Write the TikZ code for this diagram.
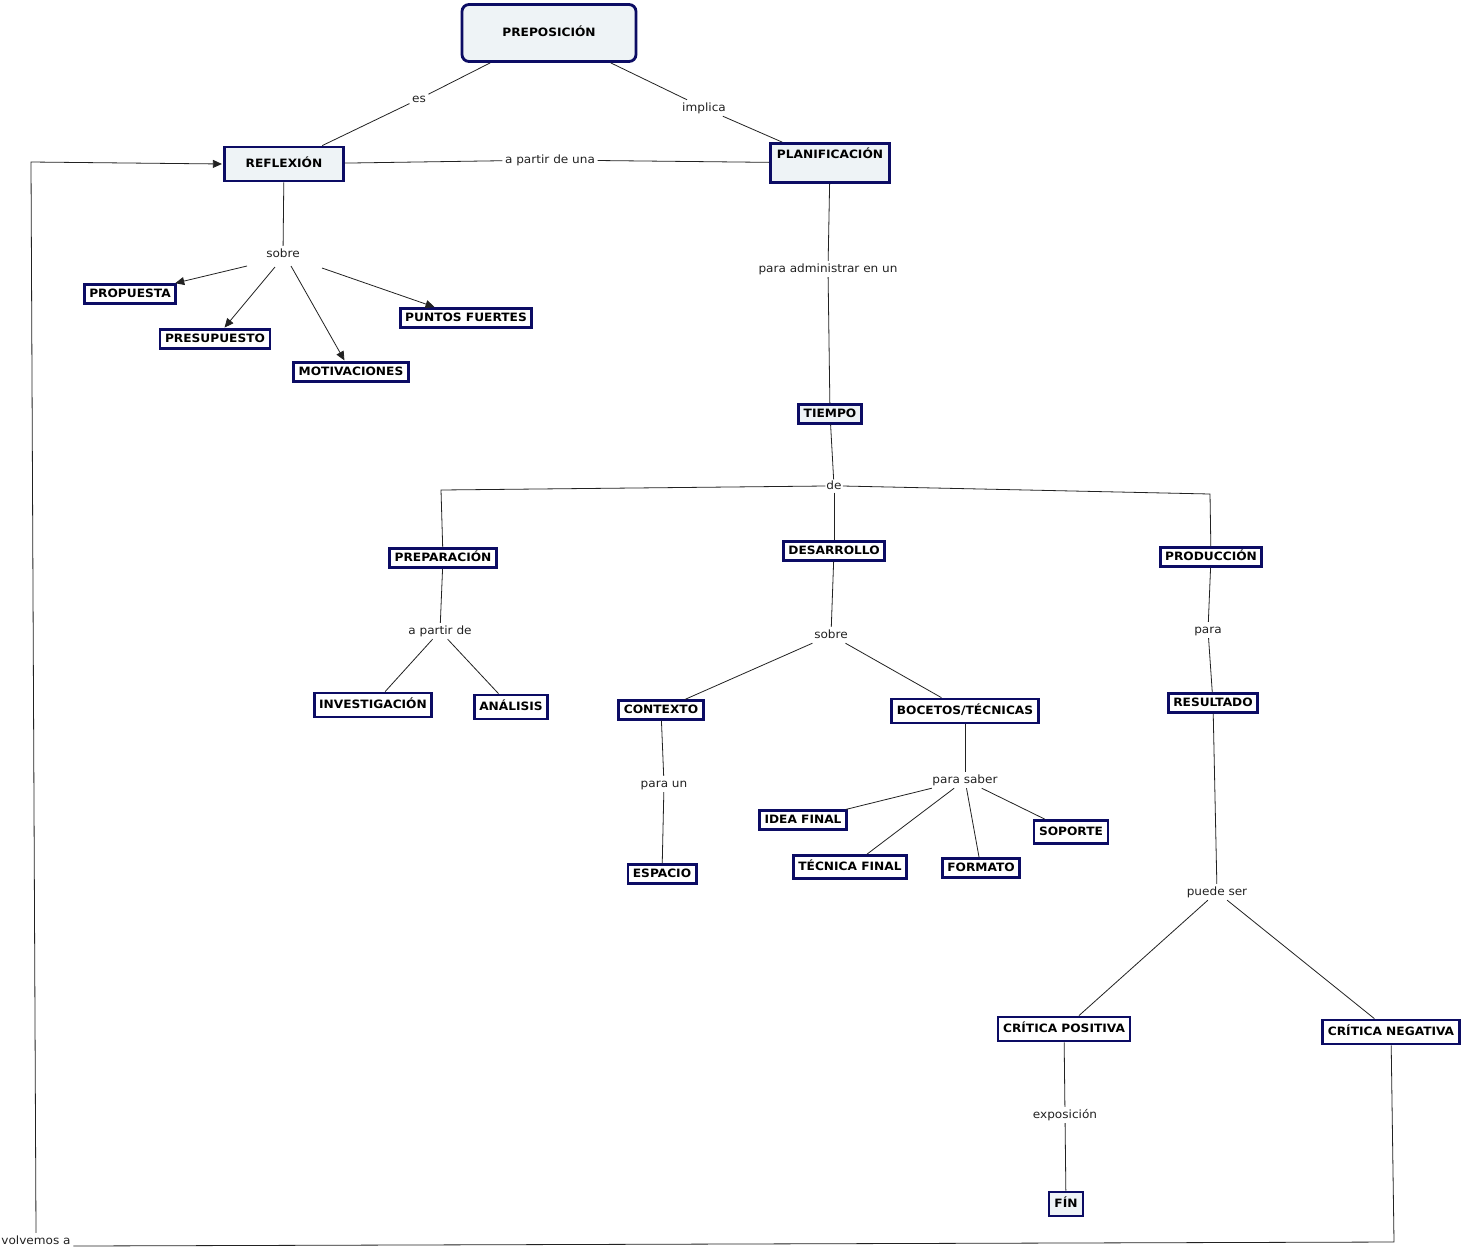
\documentclass[tikz,border=0pt]{standalone}
\usepackage{fontspec}
\setmainfont{DejaVu Sans}[FakeStretch=1.06]
\usetikzlibrary{arrows.meta}
\definecolor{navy}{RGB}{12,12,100}
\definecolor{lightfill}{HTML}{EEF3F6}
\definecolor{ink}{HTML}{222222}
\begin{document}
\begin{tikzpicture}[x=1pt,y=-1pt,
  every node/.style={font=\fontsize{11.4}{13}\selectfont},
  box/.style={draw=navy, line width=2.8pt, fill=white, font=\fontsize{11.5}{13}\selectfont\bfseries,
    inner xsep=5pt, inner ysep=4pt, text height=8.5pt, text depth=1.8pt},
  boxl/.style={box, fill=lightfill},
  lbl/.style={inner sep=2.5pt, text height=8.5pt, text depth=2.5pt, text=ink},
  con/.style={line width=0.8pt, draw=ink},
  arr/.style={con, -{Triangle[length=9pt,width=8pt]}, shorten >=1.2pt}
]
\fill[white] (0,-2) rectangle (1466,1246);
\useasboundingbox (0,-2) rectangle (1466,1246);

% concepts
\node[boxl, rounded corners=7pt, minimum width=174pt, minimum height=57pt] (prep) at (549,31) {PREPOSICIÓN};
\node[boxl, minimum width=119pt, minimum height=34pt] (refl) at (284,162) {REFLEXIÓN};
\node[boxl, minimum width=119pt, minimum height=39pt, text depth=17pt] (plan) at (830,161) {PLANIFICACIÓN};
\node[box] (propu) at (130,292) {PROPUESTA};
\node[box] (presu) at (215,337) {PRESUPUESTO};
\node[box] (motiv) at (351,370) {MOTIVACIONES};
\node[box] (punto) at (466,316) {PUNTOS FUERTES};
\node[boxl] (tiem) at (830,412) {TIEMPO};
\node[box] (prepa) at (443,556) {PREPARACIÓN};
\node[box] (desa) at (834,549) {DESARROLLO};
\node[box] (produ) at (1211,555) {PRODUCCIÓN};
\node[box, minimum height=24pt] (inves) at (373,703) {INVESTIGACIÓN};
\node[box, minimum height=24pt] (anal) at (511,705) {ANÁLISIS};
\node[box] (conte) at (661,708) {CONTEXTO};
\node[box, minimum height=24pt] (boce) at (965,709) {BOCETOS/TÉCNICAS};
\node[box] (espa) at (662,872) {ESPACIO};
\node[box] (idea) at (803,818) {IDEA FINAL};
\node[box, minimum height=23pt] (tecn) at (850,865) {TÉCNICA FINAL};
\node[box] (form) at (981,866) {FORMATO};
\node[box, minimum height=23pt] (sopo) at (1071,830) {SOPORTE};
\node[box] (resu) at (1213,701) {RESULTADO};
\node[box, minimum height=24pt] (cpos) at (1064,1027) {CRÍTICA POSITIVA};
\node[box, minimum height=24pt] (cneg) at (1391,1030) {CRÍTICA NEGATIVA};
\node[boxl, minimum height=24pt, minimum width=34pt] (fin) at (1066,1202) {FÍN};

% linking phrases
\node[lbl] (es) at (419,97) {es};
\node[lbl] (impl) at (704,106) {implica};
\node[lbl] (apu) at (550,158) {a partir de una};
\node[lbl] (sob1) at (283,252) {sobre};
\node[lbl] (padm) at (828,267) {para administrar en un};
\node[lbl, inner sep=1pt] (de) at (834,484) {de};
\node[lbl] (apd) at (440,629) {a partir de};
\node[lbl] (sob2) at (831,633) {sobre};
\node[lbl] (pun) at (664,782) {para un};
\node[lbl] (psab) at (965,778) {para saber};
\node[lbl] (para) at (1208,628) {para};
\node[lbl] (pser) at (1217,890) {puede ser};
\node[lbl] (expo) at (1065,1113) {exposición};
\node[lbl] (volv) at (36,1239) {volvemos a};

\coordinate (deL) at (441,488);
\coordinate (deR) at (1210,492);
\coordinate (vR) at (1394,1240);
\coordinate (vL) at (31,160);

% connectors
\draw[con] (prep) -- (es);
\draw[con] (es) -- (refl);
\draw[con] (prep) -- (impl);
\draw[con] (impl) -- (plan);
\draw[con] (refl) -- (apu);
\draw[con] (apu) -- (plan);
\draw[con] (refl) -- (sob1);
\draw[arr] ([shift={(-36,12)}]sob1.center) -- (propu);
\draw[arr] ([shift={(-8,13)}]sob1.center) -- (presu);
\draw[arr] ([shift={(8,12)}]sob1.center) -- (motiv);
\draw[arr] ([shift={(39,14)}]sob1.center) -- (punto);
\draw[con] (plan) -- (padm);
\draw[con] (padm) -- (tiem);
\draw[con] (tiem) -- (de);
\draw[con] (de.west) -- (deL) -- (prepa);
\draw[con] (de) -- (desa);
\draw[con] (de.east) -- (deR) -- (produ);
\draw[con] (prepa) -- (apd);
\draw[con] (apd) -- (inves);
\draw[con] (apd) -- (anal);
\draw[con] (desa) -- (sob2);
\draw[con] (sob2) -- (conte);
\draw[con] (sob2) -- (boce);
\draw[con] (conte) -- (pun);
\draw[con] (pun) -- (espa);
\draw[con] (boce) -- (psab);
\draw[con] (psab) -- (idea);
\draw[con] (psab) -- (tecn);
\draw[con] (psab) -- (form);
\draw[con] (psab) -- (sopo);
\draw[con] (produ) -- (para);
\draw[con] (para) -- (resu);
\draw[con] (resu) -- (pser);
\draw[con] (pser) -- (cpos);
\draw[con] (pser) -- (cneg);
\draw[con] (cpos) -- (expo);
\draw[con] (expo) -- (fin);
\draw[con] (cneg) -- (vR) -- ([yshift=-5pt]volv.east);
\draw[arr] (volv.north) -- (vL) -- (refl.west);
\end{tikzpicture}
\end{document}
